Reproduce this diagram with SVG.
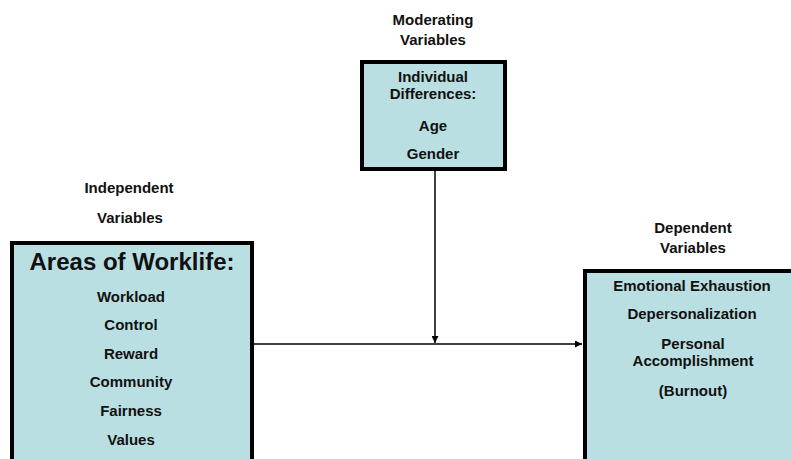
<svg xmlns="http://www.w3.org/2000/svg" width="791" height="459" viewBox="0 0 791 459">
<style>
.t{font-family:"Liberation Sans",Arial,sans-serif;font-weight:bold;font-size:15px;fill:#111;text-anchor:middle}
.box{fill:#badfe2;stroke:#000;stroke-width:4}
.ln{stroke:#000;stroke-width:1.5;fill:none}
</style>
<defs>
<marker id="ah" viewBox="0 0 10 10" refX="10" refY="5" markerWidth="7" markerHeight="7" markerUnits="userSpaceOnUse" orient="auto">
<path d="M0,0 L10,5 L0,10 z" fill="#000"/>
</marker>
</defs>
<rect width="791" height="459" fill="#fff"/>
<g id="connectors">
<line class="ln" x1="254" y1="344" x2="582" y2="344" marker-end="url(#ah)"/>
<line class="ln" x1="435" y1="171" x2="435" y2="343" marker-end="url(#ah)"/>
</g>
<g id="moderating">
<text class="t" x="433" y="25">Moderating</text>
<text class="t" x="433" y="45">Variables</text>
<rect class="box" x="362" y="62" width="143" height="107"/>
<text class="t" x="433" y="82">Individual</text>
<text class="t" x="433" y="99">Differences:</text>
<text class="t" x="433" y="131">Age</text>
<text class="t" x="433" y="159">Gender</text>
</g>
<g id="independent">
<text class="t" x="129" y="193">Independent</text>
<text class="t" x="130" y="223">Variables</text>
<rect class="box" x="12" y="243" width="240" height="230"/>
<text class="t" x="132" y="270" style="font-size:24px">Areas of Worklife:</text>
<text class="t" x="131" y="302">Workload</text>
<text class="t" x="131" y="330">Control</text>
<text class="t" x="131" y="359">Reward</text>
<text class="t" x="131" y="387">Community</text>
<text class="t" x="131" y="416">Fairness</text>
<text class="t" x="131" y="445">Values</text>
</g>
<g id="dependent">
<text class="t" x="693" y="233">Dependent</text>
<text class="t" x="693" y="253">Variables</text>
<rect class="box" x="585" y="271" width="230" height="220"/>
<text class="t" x="692" y="291">Emotional Exhaustion</text>
<text class="t" x="692" y="319">Depersonalization</text>
<text class="t" x="693" y="349">Personal</text>
<text class="t" x="693" y="366">Accomplishment</text>
<text class="t" x="693" y="396">(Burnout)</text>
</g>
</svg>
